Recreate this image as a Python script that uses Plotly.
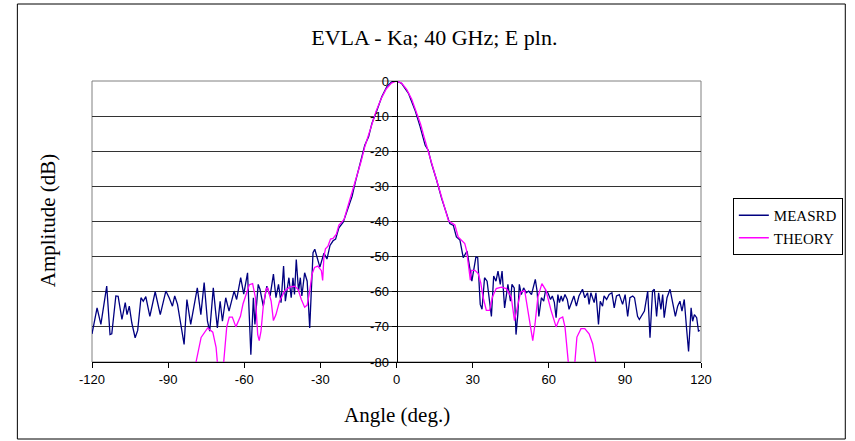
import plotly.graph_objects as go

# Measured pattern (angle in deg, amplitude in dB)
meas_angle = [
    -120, -118, -116.5, -114.2, -112.9, -112.2, -110.6, -109.7, -108.2, -106.9, -106.2, -105.3,
    -104.3, -103, -102, -100.7, -99.8, -98.8, -97.2, -95.8, -95.1, -93.1, -90.9, -89.6,
    -88.3, -87.4, -86.3, -85, -83.7, -82.6, -81.1, -78.5, -77.1, -75.8, -74.5, -73.6,
    -72.2, -71.3, -70.6, -69.5, -68.6, -67.3, -66, -64, -63, -61.4, -60.2, -58.7,
    -58, -57.4, -56.4, -55.8, -54.5, -53.8, -52.5, -51.1, -49.8, -48.5, -47.5, -46.5,
    -45.5, -44.5, -43.8, -42.4, -41.5, -40.8, -40.2, -39.5, -38.6, -37.9, -37.3, -36.2,
    -35.2, -34.2, -33.8, -32.9, -32.2, -30.2, -28.6, -27.4, -26.2, -25, -24, -22.7,
    -21, -19.5, -17.5, -16.2, -14.2, -12.5, -11, -9.7, -7.7, -5.8, -3.8, -1.8,
    0, 2, 4.7, 7.3, 9.3, 11.3, 12.5, 13.8, 15.8, 17.8, 19.7, 21,
    22.4, 23.6, 25, 26.3, 27.8, 29.7, 31.3, 32, 33, 33.7, 34.7, 35.7,
    37.4, 38.3, 39.2, 40, 40.9, 41.6, 42.6, 43.2, 43.9, 44.9, 45.5, 46.4,
    47.1, 47.8, 48.4, 49.2, 50.1, 51.1, 52.1, 53.2, 54.1, 54.7, 55.4, 56.1,
    57.1, 58, 58.7, 59.7, 60.7, 61.4, 62.2, 62.9, 63.6, 64.2, 64.9, 65.5,
    66.4, 67.3, 68, 69, 69.9, 70.9, 71.9, 73.3, 74.2, 75.3, 75.9, 76.6,
    77.2, 77.9, 78.6, 79.6, 80.3, 81.2, 81.8, 82.8, 83.8, 84.9, 85.8, 86.7,
    87.8, 89.1, 90.1, 91.1, 92, 93.1, 93.8, 95, 95.7, 96.7, 97.7, 99,
    99.9, 100.9, 101.6, 102.5, 103.3, 104.2, 104.9, 105.5, 106.6, 107.8, 108.8, 109.9,
    110.8, 111.7, 112.5, 113.4, 114.3, 115.1, 116.1, 116.7, 117.4, 118.3, 119, 119.5,
]
meas_db = [
    -72, -64.6, -69.3, -58.4, -72.2, -72, -61.2, -61.3, -67.9, -63.1, -66.5, -64.1,
    -68.9, -73.1, -71, -61.7, -62.7, -61.4, -67, -61.7, -60, -66.5, -59.8, -61.7,
    -64.1, -61.2, -63.6, -69.3, -75, -62.2, -69.3, -58.9, -66.5, -57.4, -68.4, -71.2,
    -58.9, -65.5, -70.3, -62.7, -68.4, -61.7, -65.5, -59.8, -62.2, -56, -60.7, -54.6,
    -70.3, -77.9, -61.7, -69.3, -57.9, -59.3, -64.1, -58.4, -61.2, -55, -61.7, -57.9,
    -63.1, -52.7, -62.7, -56, -61.7, -56, -60.8, -50.8, -59.8, -56, -61.2, -54.6,
    -57, -70.3, -63.6, -48.9, -47.9, -53, -49, -50.7, -46.8, -45.5, -45, -41.8,
    -40.2, -36.8, -32.8, -28.7, -23.5, -18.3, -15.9, -12.1, -8.3, -4.5, -1.6, -0.2,
    0, -0.7, -3.5, -8.3, -13, -18.3, -19.7, -23.5, -28.2, -33.5, -37.7, -40.6,
    -41.1, -44.4, -45.3, -50.3, -48.4, -57, -50.1, -50.3, -63.6, -65, -56, -57,
    -67, -55.5, -57, -54.1, -57.9, -54.1, -64.6, -60.8, -57.9, -62.7, -57.9, -58.9,
    -72.2, -66.5, -57.9, -60.8, -58.9, -60.3, -59.8, -60.8, -57.9, -56.5, -59.8, -67,
    -61.7, -62.7, -59.8, -60.3, -62.2, -61.2, -63, -67.4, -60.8, -63.1, -61.2, -62.7,
    -60.8, -62.2, -65, -62.7, -61.2, -64.1, -61.2, -59.3, -61.7, -60.3, -63.6, -60.3,
    -61.7, -63.1, -60.3, -69.3, -62.7, -64.1, -61.2, -62.2, -60.8, -60.3, -64.6, -61.2,
    -60.8, -63.6, -60.8, -67, -61.7, -61.2, -61.7, -67, -67.9, -66.5, -65.5, -59.8,
    -73.1, -59.8, -59.3, -67, -60.3, -65, -60.8, -67.4, -61.7, -59.3, -62.7, -67,
    -64.1, -62.7, -65.5, -62.2, -70.3, -77, -64.6, -68.4, -66.5, -67.4, -71.2, -71,
]

# Theoretical pattern (values below -80 dB fall outside the axis)
theory_angle = [
    -80, -79, -77, -74.4, -72.4, -71.1, -70.6, -69.4, -68.1, -66.9, -65.9, -64.7,
    -63.3, -61.5, -60.5, -59.3, -58, -56.7, -55.6, -54.7, -54.1, -53.4, -52.5, -51.4,
    -50.8, -49.4, -48.5, -47.5, -46.1, -44.1, -42.1, -40.2, -38.8, -37.5, -36.2, -35.2,
    -34.2, -33.3, -32.3, -31, -29.6, -29.1, -28.6, -28, -27, -26, -25, -23.7,
    -22.7, -21.7, -20.6, -19.5, -18, -16, -14, -12.5, -11, -9.5, -8, -6,
    -4, -2, 0, 2, 4, 6, 8, 9.5, 11, 12.3, 14, 16,
    18, 19.7, 20.5, 21.7, 23, 24.3, 25.6, 26.9, 27.6, 28.5, 29.1, 29.5,
    30.9, 32.2, 33.2, 34.1, 35.4, 36.7, 37.8, 39.3, 41.3, 43.3, 45.2, 46.5,
    47.8, 48.9, 50.5, 51.8, 53.1, 53.7, 54.6, 55.7, 57.3, 58.9, 60.9, 62.9,
    64.2, 65.5, 66.4, 67.2, 67.8, 69, 70.3, 71.1, 72.7, 74.2, 75.9, 77.3,
    78.5, 79.5,
]
theory_db = [
    -88, -80, -73, -70.3, -71.5, -75.8, -80, -90, -80, -70, -67.2, -67.2,
    -70, -67, -63.5, -60.5, -58, -57.7, -61.7, -72.2, -73.9, -71.2, -64.1, -59.3,
    -58.8, -62.7, -68.2, -66.5, -62.7, -59.8, -58.7, -58.4, -59.3, -62.2, -64.4, -63.8,
    -59.8, -55, -53.1, -52.7, -54, -56.8, -50, -47.8, -47, -45, -44.8, -43.6,
    -41, -40.3, -39.3, -36.5, -33, -28.3, -23, -18.7, -15.3, -11.8, -8.5, -5,
    -2.2, -0.6, 0, -0.6, -2.4, -5.2, -9, -12.3, -16.3, -19.5, -23.8, -28.8,
    -33.8, -38, -39.8, -40.4, -41, -44.4, -45.3, -46.3, -48.2, -52.9, -56.7, -53.9,
    -53.9, -54.8, -57.5, -61.5, -65.3, -65.3, -61.5, -59.1, -58.7, -59.1, -61.5, -68.2,
    -63.4, -60.1, -59.6, -65.3, -72, -73.9, -69.1, -61.5, -57.7, -59.6, -65.3, -70,
    -67.7, -67.2, -70, -75.8, -80, -90, -80, -72.9, -70.5, -70.5, -72, -74.8,
    -80, -88,
]

x_ticks = [-120, -90, -60, -30, 0, 30, 60, 90, 120]
y_ticks = [0, -10, -20, -30, -40, -50, -60, -70, -80]

W, H = 855, 441
ML, MR, MT, MB = 92, 151, 81, 79
PW, PH = W - ML - MR, H - MT - MB


def px(x):
    return (x - ML) / PW


def py(y):
    return (H - MB - y) / PH


fig = go.Figure()
fig.add_trace(go.Scatter(x=meas_angle, y=meas_db, mode="lines", name="MEASRD",
                         line=dict(color="#000080", width=1.3)))
fig.add_trace(go.Scatter(x=theory_angle, y=theory_db, mode="lines", name="THEORY",
                         line=dict(color="#FF00FF", width=1.3)))

fig.update_layout(
    width=W, height=H,
    margin=dict(l=ML, r=MR, t=MT, b=MB, pad=0),
    paper_bgcolor="white", plot_bgcolor="white",
    showlegend=True,
    legend=dict(x=px(736), y=py(198), xanchor="left", yanchor="top",
                bordercolor="black", borderwidth=1, bgcolor="white",
                font=dict(family="Liberation Serif", size=15, color="black"),
                itemwidth=30, tracegroupgap=0, tracegroupgap_=None) if False else
           dict(x=px(736), y=py(198), xanchor="left", yanchor="top",
                bordercolor="black", borderwidth=1, bgcolor="white",
                font=dict(family="Liberation Serif", size=15, color="black"),
                itemwidth=30, tracegroupgap=0),
    title=dict(text="EVLA - Ka; 40 GHz; E pln.", x=px(436), xref="paper", xanchor="center",
               y=1 - 37 / H, yref="container", yanchor="middle",
               font=dict(family="Liberation Serif", size=22, color="black")),
    xaxis=dict(range=[-120, 120], tickvals=x_ticks, ticktext=[str(v) for v in x_ticks],
               showgrid=False, zeroline=False, showline=True, linecolor="black", linewidth=1,
               ticks="outside", ticklen=5, tickcolor="black",
               tickfont=dict(family="Liberation Sans", size=13, color="black")),
    yaxis=dict(range=[-80, 0], tickvals=y_ticks, ticktext=[str(v) for v in y_ticks],
               anchor="free", position=0.5,
               showgrid=True, gridcolor="#333333", gridwidth=1,
               zeroline=False, showline=True, linecolor="black", linewidth=1,
               ticks="outside", ticklen=5, tickcolor="black",
               tickfont=dict(family="Liberation Sans", size=13, color="black")),
    shapes=[
        dict(type="rect", xref="paper", yref="paper", x0=0, x1=1, y0=0, y1=1,
             line=dict(color="#808080", width=1), layer="below"),
        dict(type="rect", xref="paper", yref="paper", x0=px(17), x1=px(849),
             y0=py(439), y1=py(4), line=dict(color="black", width=1), layer="below"),
    ],
    annotations=[
        dict(text="Angle (deg.)", x=0.5, y=py(415), xref="paper", yref="paper",
             xanchor="center", yanchor="middle", showarrow=False,
             font=dict(family="Liberation Serif", size=21, color="black")),
        dict(text="Amplitude (dB)", x=px(48), y=py(220), xref="paper", yref="paper",
             xanchor="center", yanchor="middle", showarrow=False, textangle=-90,
             font=dict(family="Liberation Serif", size=21, color="black")),
    ],
)

fig.write_html("out.html")
